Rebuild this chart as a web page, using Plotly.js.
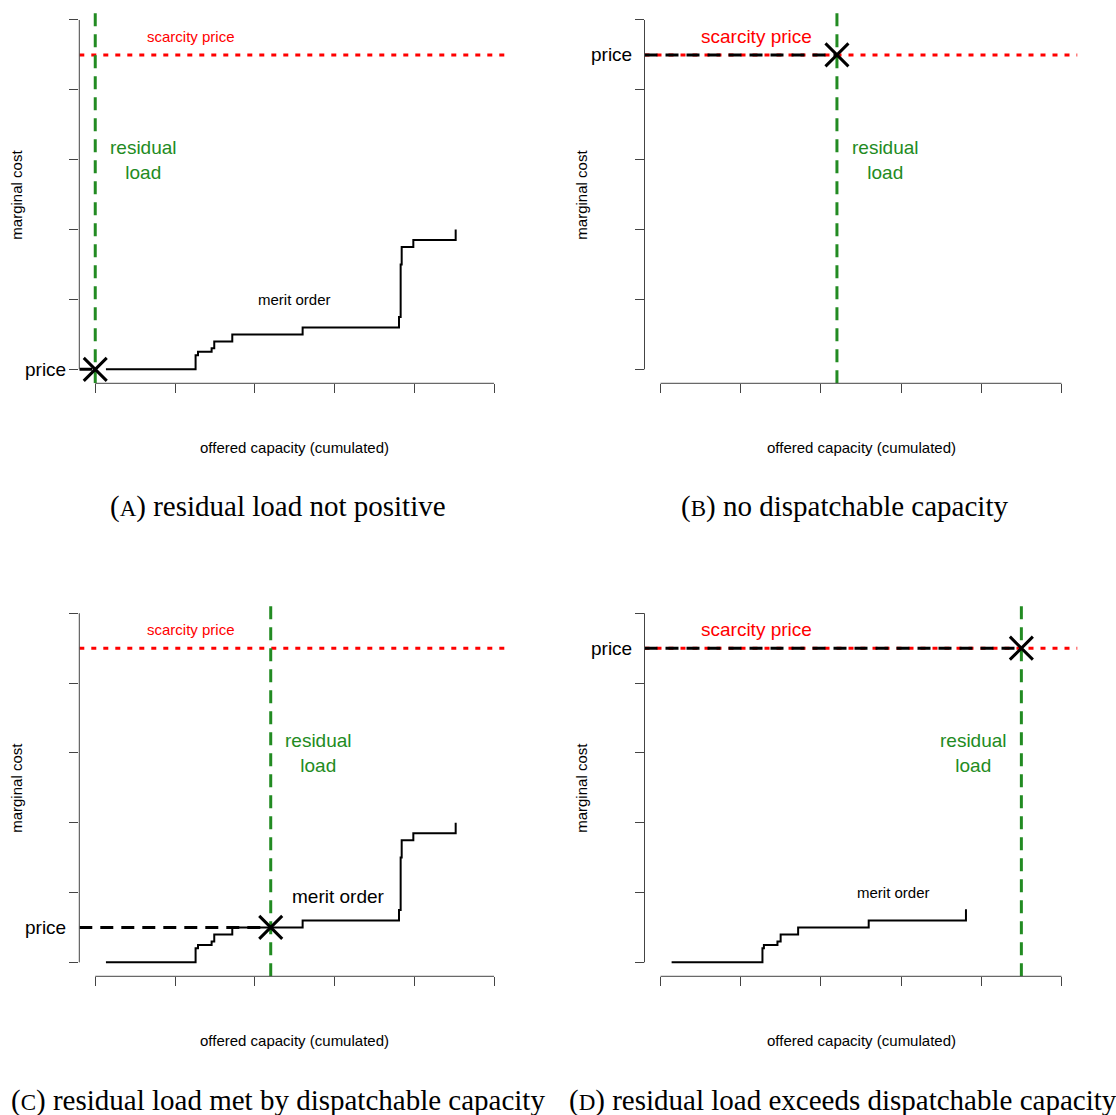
<!DOCTYPE html>
<html><head><meta charset="utf-8">
<script src="https://cdn.plot.ly/plotly-3.0.1.min.js"></script>
<style>html,body{margin:0;padding:0;background:#fff}#chart{width:1116px;height:1115px}</style>
</head><body><div id="chart"></div>
<script>
// ---- data ----
const xTicks = [0, 1, 2, 3, 4, 5];
const yTicks = [0, 1, 2, 3, 4, 5];
const meritCapacity = [0.134, 1.258, 1.288, 1.459, 1.492, 1.718, 2.600, 3.808, 3.829, 3.842, 3.988, 4.519];
const meritPrice    = [0, 0.2, 0.25, 0.3, 0.4, 0.5, 0.6, 0.75, 1.5, 1.75, 1.85, 2.0];
const meritCapacityD = [0.138, 1.271, 1.289, 1.458, 1.498, 1.716, 2.596, 3.809];
const meritPriceD    = [0, 0.2, 0.25, 0.3, 0.4, 0.5, 0.6, 0.76];
const scarcityPrice = 4.5;
const panelLetters = ['A', 'B', 'C', 'D'];
const residualLoad = [0, 2.2, 2.2, 4.5];
const clearingPrice = [0, 4.5, 0.5, 4.5];
const captionTexts = ['residual load not positive', 'no dispatchable capacity',
  'residual load met by dispatchable capacity', 'residual load exceeds dispatchable capacity'];

// ---- layout helpers ----
const W = 1116, H = 1115;
const px = v => v / W;
const py = v => 1 - v / H;
const pad = 0.04 * (xTicks[xTicks.length - 1] - xTicks[0]);
const xRange = [xTicks[0] - pad, xTicks[xTicks.length - 1] + pad];
const yRange = [yTicks[0] - pad, yTicks[yTicks.length - 1] + pad];

const geo = [
  {l: 79.3, r: 510, t: 6, b: 383.3, capX: 277.5, capY: 506, ylabX: 17},
  {l: 644.5, r: 1077.5, t: 6, b: 383.3, capX: 844, capY: 506, ylabX: 582},
  {l: 79.3, r: 510, t: 599.3, b: 976.3, capX: 278, capY: 1100, ylabX: 17},
  {l: 644.5, r: 1077.5, t: 599.3, b: 976.3, capX: 843, capY: 1100, ylabX: 582}
];
const scarcitySize = [15, 19, 15, 19];
const meritLabel = [{x: 2.5, y: 1.0, s: 15}, null, {x: 3.05, y: 0.95, s: 19}, {x: 2.9, y: 1.0, s: 15}];
const residualLabelDx = [0.6, 0.6, 0.6, -0.6];

const SANS = 'Liberation Sans, Arial, sans-serif';
const RED = '#FF0000', GREEN = '#228B22', AXC = '#444';

const traces = [];
const layout = {
  width: W, height: H, margin: {l: 0, r: 0, t: 0, b: 0},
  paper_bgcolor: '#fff', plot_bgcolor: 'rgba(0,0,0,0)', showlegend: false,
  font: {family: SANS, color: '#000'},
  shapes: [], annotations: []
};

function note(o) {
  layout.annotations.push(Object.assign({showarrow: false, xanchor: 'center', yanchor: 'middle'}, o));
}

panelLetters.forEach((L, i) => {
  const g = geo[i];
  const n = i === 0 ? '' : String(i + 1);
  const xa = 'x' + n, ya = 'y' + n;
  const common = {showgrid: false, zeroline: false, showline: false, ticks: 'outside',
    ticklen: 9, tickwidth: 1, tickcolor: AXC, tickmode: 'array', showticklabels: false, fixedrange: true};
  layout['xaxis' + n] = Object.assign({}, common, {domain: [px(g.l), px(g.r)], range: xRange, anchor: ya, tickvals: xTicks});
  layout['yaxis' + n] = Object.assign({}, common, {domain: [py(g.b), py(g.t)], range: yRange, anchor: xa, tickvals: yTicks});

  // axis lines (R style: from first to last tick)
  layout.shapes.push({type: 'line', xref: xa, yref: ya + ' domain', x0: xTicks[0], x1: xTicks[xTicks.length - 1], y0: 0, y1: 0, line: {color: AXC, width: 1}});
  layout.shapes.push({type: 'line', xref: xa + ' domain', yref: ya, x0: 0, x1: 0, y0: yTicks[0], y1: yTicks[yTicks.length - 1], line: {color: AXC, width: 1}});

  // merit order
  if (L === 'A' || L === 'C') {
    traces.push({x: meritCapacity, y: meritPrice, xaxis: xa, yaxis: ya, mode: 'lines', line: {shape: 'hv', color: '#000', width: 2}, hoverinfo: 'skip'});
  } else if (L === 'D') {
    traces.push({x: meritCapacityD, y: meritPriceD, xaxis: xa, yaxis: ya, mode: 'lines', line: {shape: 'hv', color: '#000', width: 2}, hoverinfo: 'skip'});
  }
  // scarcity price
  traces.push({x: xRange, y: [scarcityPrice, scarcityPrice], xaxis: xa, yaxis: ya, mode: 'lines', line: {color: RED, width: 3, dash: '5px,7px'}, hoverinfo: 'skip'});
  // price dashed line
  traces.push({x: [xRange[0], residualLoad[i]], y: [clearingPrice[i], clearingPrice[i]], xaxis: xa, yaxis: ya, mode: 'lines', line: {color: '#000', width: 3, dash: '13px,8px'}, hoverinfo: 'skip'});
  // residual load
  traces.push({x: [residualLoad[i], residualLoad[i]], y: yRange, xaxis: xa, yaxis: ya, mode: 'lines', line: {color: GREEN, width: 3, dash: '13px,8px'}, hoverinfo: 'skip'});
  // market clearing point
  traces.push({x: [residualLoad[i]], y: [clearingPrice[i]], xaxis: xa, yaxis: ya, mode: 'markers', marker: {symbol: 'x-thin-open', size: 23, color: '#000', line: {color: '#000', width: 3}}, hoverinfo: 'skip'});

  // texts
  note({xref: xa, yref: ya, x: 1.2, y: 4.77, text: 'scarcity price', font: {size: scarcitySize[i], color: RED, family: SANS}});
  note({xref: xa, yref: ya, x: residualLoad[i] + residualLabelDx[i], y: 3.0, text: 'residual<br>load', font: {size: 19, color: GREEN, family: SANS}});
  if (meritLabel[i]) {
    const m = meritLabel[i];
    note({xref: xa, yref: ya, x: m.x, y: m.y, text: 'merit order', font: {size: m.s, color: '#000', family: SANS}});
  }
  note({xref: xa + ' domain', yref: ya, x: 0, y: clearingPrice[i], xanchor: 'right', xshift: -11, text: 'price', font: {size: 19, color: '#000', family: SANS}});
  note({xref: 'paper', yref: 'paper', x: px(g.ylabX), y: py((g.t + g.b) / 2), text: 'marginal cost', textangle: -90, font: {size: 15, color: '#000', family: SANS}});
  note({xref: 'paper', yref: 'paper', x: px((g.l + g.r) / 2), y: py(g.b + 64), text: 'offered capacity (cumulated)', font: {size: 15, color: '#000', family: SANS}});
  note({xref: 'paper', yref: 'paper', x: px(g.capX), y: py(g.capY),
    text: '(<span style="font-size:23px">' + L + '</span>) ' + captionTexts[i],
    font: {size: 29, color: '#000', family: 'Liberation Serif, Times New Roman, serif'}});
});
Plotly.newPlot('chart', traces, layout, {staticPlot: true, displayModeBar: false});
</script>
</body></html>
